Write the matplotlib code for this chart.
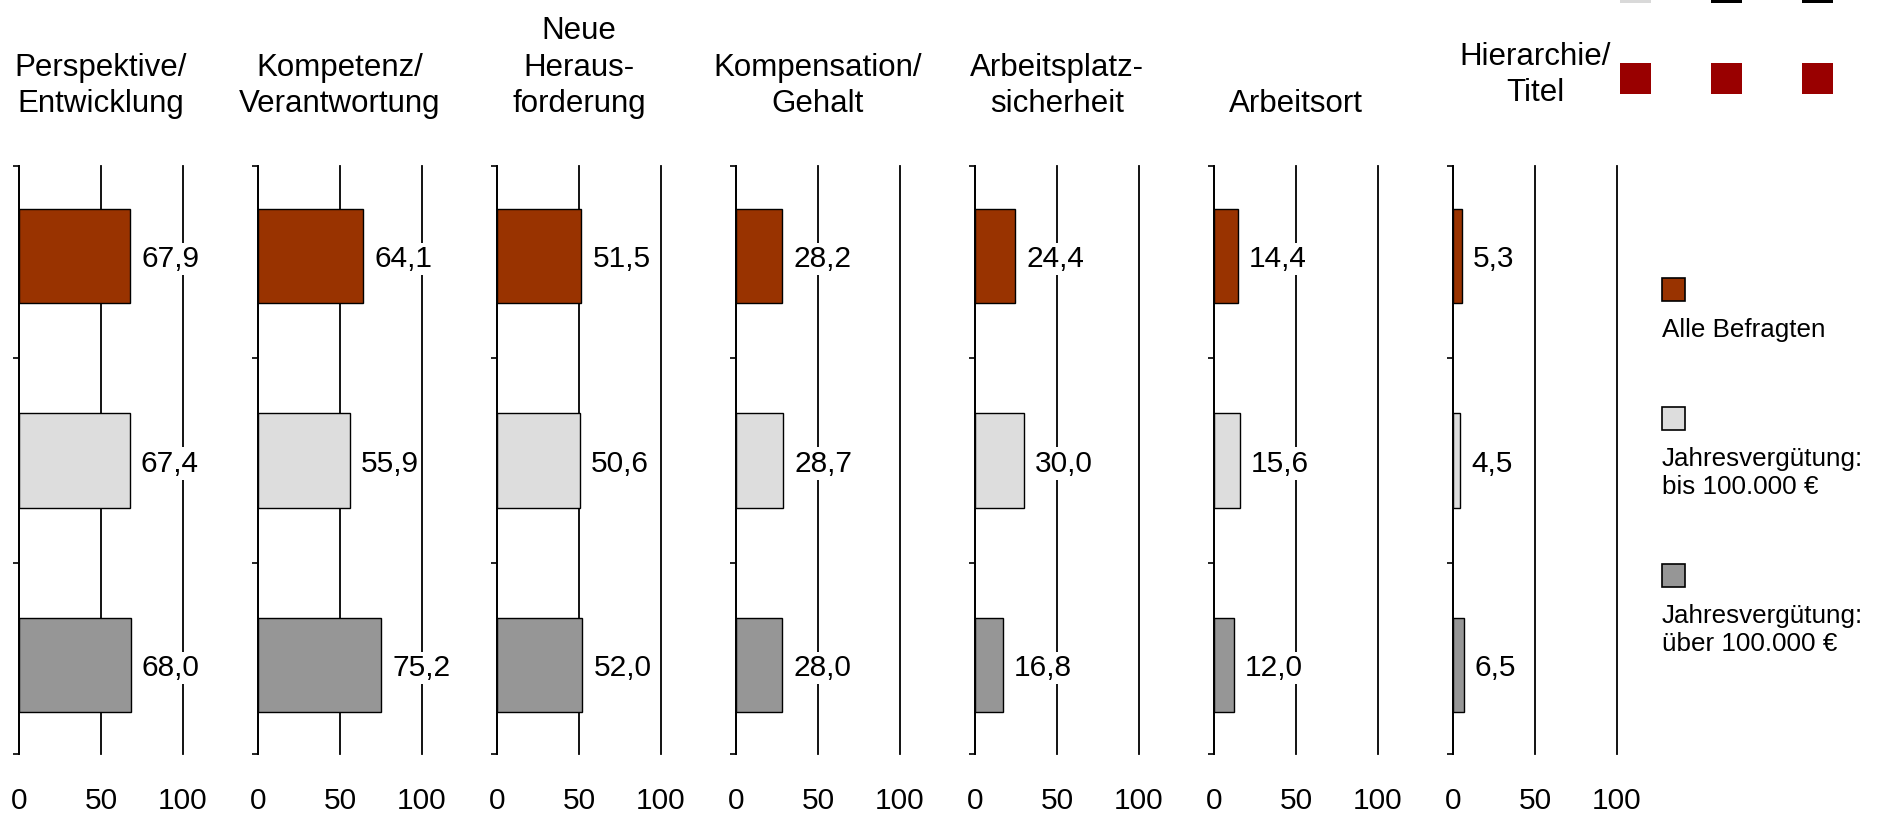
import matplotlib
matplotlib.use("Agg")
import matplotlib.pyplot as plt
from matplotlib.patches import Rectangle

# Data
headers = [
    "Perspektive/\nEntwicklung",
    "Kompetenz/\nVerantwortung",
    "Neue\nHeraus-\nforderung",
    "Kompensation/\nGehalt",
    "Arbeitsplatz-\nsicherheit",
    "Arbeitsort",
    "Hierarchie/\nTitel",
]
alle_befragten = [67.9, 64.1, 51.5, 28.2, 24.4, 14.4, 5.3]
bis_100k = [67.4, 55.9, 50.6, 28.7, 30.0, 15.6, 4.5]
ueber_100k = [68.0, 75.2, 52.0, 28.0, 16.8, 12.0, 6.5]
series_labels = ["Alle Befragten", "Jahresvergütung:\nbis 100.000 €", "Jahresvergütung:\nüber 100.000 €"]
x_ticks = [0, 50, 100]

colors = ["#993300", "#DDDDDD", "#969696"]

plt.rcParams["font.family"] = ["Liberation Sans", "DejaVu Sans"]

W, H = 1882, 817
fig = plt.figure(figsize=(W / 100, H / 100), dpi=100)


def fx(px):
    return px / W


def fy(py):
    # pixel from top -> figure fraction
    return 1 - py / H


ax_top, ax_bottom = 166, 754
series = [alle_befragten, bis_100k, ueber_100k]

for i, head in enumerate(headers):
    left = 19 + 239 * i
    ax = fig.add_axes([fx(left), fy(ax_bottom), fx(164), (ax_bottom - ax_top) / H])
    for j, vals in enumerate(series):
        ax.barh(j, vals[i], height=0.46, color=colors[j], edgecolor="black",
                linewidth=1.0, zorder=2)
        ax.annotate(f"{vals[i]:.1f}".replace(".", ","), (vals[i], j),
                    xytext=(8, 0), textcoords="offset points",
                    ha="left", va="center_baseline", fontsize=21.5, zorder=4,
                    bbox=dict(facecolor="white", edgecolor="none", pad=1.5))
    ylo, yhi = 2.435, -0.44
    ax.set_ylim(ylo, yhi)
    ax.set_xlim(0, 100)
    ax.set_yticks([yhi, 0.5, 1.5, ylo])
    ax.set_yticklabels([])
    ax.tick_params(axis="y", length=4, width=1.2, direction="out")
    ax.set_xticks(x_ticks)
    ax.set_xticklabels([str(t) for t in x_ticks], fontsize=21.5)
    ax.tick_params(axis="x", length=0, pad=24)
    for s in ["top", "right", "bottom"]:
        ax.spines[s].set_visible(False)
    ax.spines["left"].set_linewidth(1.3)
    ax.grid(axis="x", color="black", linewidth=1.3, zorder=1)
    for gl in ax.get_xgridlines():
        gl.set_clip_on(False)
    ax.set_axisbelow(True)
    ax.patch.set_alpha(0)

    # header above each panel
    hy = 1 + (ax_top - 119) / (ax_bottom - ax_top)
    if i == len(headers) - 1:
        hy = 1 + (ax_top - 108) / (ax_bottom - ax_top)
    ax.text(50, hy, head, transform=ax.get_xaxis_transform(), ha="center",
            va="bottom", fontsize=22.5, multialignment="center", linespacing=1.28)

# legend on the right
leg_tops = [278, 407, 564]
for c, lab, top in zip(colors, series_labels, leg_tops):
    fig.patches.append(Rectangle((fx(1662), fy(top + 23)), fx(23), 23 / H,
                                 transform=fig.transFigure, facecolor=c,
                                 edgecolor="black", linewidth=1.2))
    fig.text(fx(1662), fy(top + 40), lab, ha="left", va="top", fontsize=18.7,
             linespacing=1.22)

# stray marker squares at the top right
for k, xs in enumerate([1620, 1711, 1802]):
    fig.patches.append(Rectangle((fx(xs), fy(94)), fx(31), 31 / H,
                                 transform=fig.transFigure, facecolor="#990000",
                                 edgecolor="none"))
    fig.patches.append(Rectangle((fx(xs), fy(3)), fx(31), 4 / H,
                                 transform=fig.transFigure,
                                 facecolor="#D9D9D9" if k == 0 else "black",
                                 edgecolor="none"))

fig.savefig("out.png", dpi=100)
